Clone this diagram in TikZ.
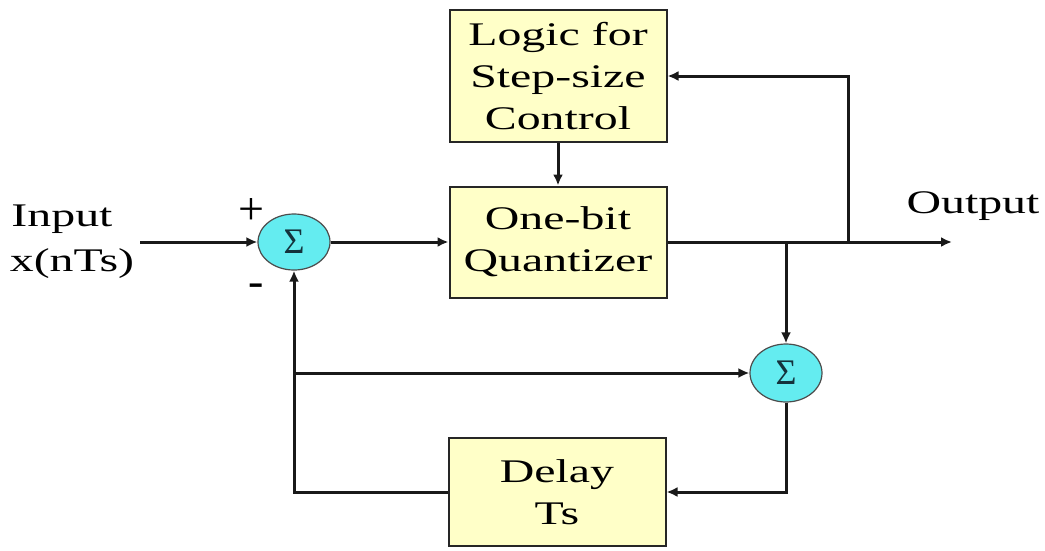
\documentclass[tikz,border=0pt]{standalone}
\usepackage{fontspec}
\setmainfont[FakeStretch=1.45]{Liberation Serif}
\newfontfamily\plainserif{Liberation Serif}
\usetikzlibrary{arrows.meta,shapes.geometric}
\definecolor{boxyellow}{RGB}{255,255,200}
\definecolor{sumcyan}{RGB}{100,236,240}
\definecolor{sigmaink}{RGB}{20,50,60}
\begin{document}
\begin{tikzpicture}[x=1pt,y=-1pt,
  lbl/.style={font=\fontsize{33}{41}\selectfont, inner sep=0pt},
  sign/.style={font=\plainserif\fontsize{46}{46}\selectfont, inner sep=0pt},
  blk/.style={draw=black!85, line width=2pt, fill=boxyellow, minimum width=217pt,
    align=center, inner sep=0pt, font=\fontsize{33}{42}\selectfont},
  summer/.style={ellipse, draw=black!70, line width=1.2pt, fill=sumcyan,
    minimum width=72pt, minimum height=56pt, inner sep=0pt,
    font=\plainserif\fontsize{36}{36}\selectfont, text=sigmaink},
  wire/.style={line width=3pt, draw=black!90},
  arr/.style={wire, -{Latex[length=11pt,width=10pt]}}
]
\useasboundingbox (0,0) rectangle (1045,550);

% blocks
\node[blk, minimum height=132pt] (logic) at (558,76) {Logic for\\Step-size\\Control};
\node[blk, minimum height=111pt] (quant) at (558,242) {One-bit\\Quantizer};
\node[blk, minimum height=108pt] (delay) at (557,492) {Delay\\Ts};

% summing junctions
\node[summer] (s1) at (294,242) {Σ};
\node[summer, minimum height=58pt] (s2) at (786,373) {Σ};

% labels
\node[lbl] (inlbl) at (62,219) {Input};
\node[lbl] (xlbl) at (72,264) {x(nTs)};
\node[lbl] (outlbl) at (973,206) {Output};
\node[sign] (plus) at (251,211) {+};
\node[sign] (minus) at (256,290) {-};

% free ends and branch points
\coordinate (in) at (140,242);
\coordinate (out) at (952,242);
\coordinate (b1) at (848,242);
\coordinate (b2) at (s2.north |- quant.east);
\coordinate (tap) at (s1.south |- s2.west);

% connectors
\draw[arr] (in) -- (s1.west);
\draw[arr] (s1.east) -- (quant.west);
\draw[arr] (logic.south) -- (quant.north);
\draw[arr] (quant.east) -- (out);
\draw[arr] (b1) |- (logic.east);
\draw[arr] (b2) -- (s2.north);
\draw[arr] (s2.south) |- (delay.east);
\draw[arr] (delay.west) -| (s1.south);
\draw[arr] (tap) -- (s2.west);
\end{tikzpicture}
\end{document}
